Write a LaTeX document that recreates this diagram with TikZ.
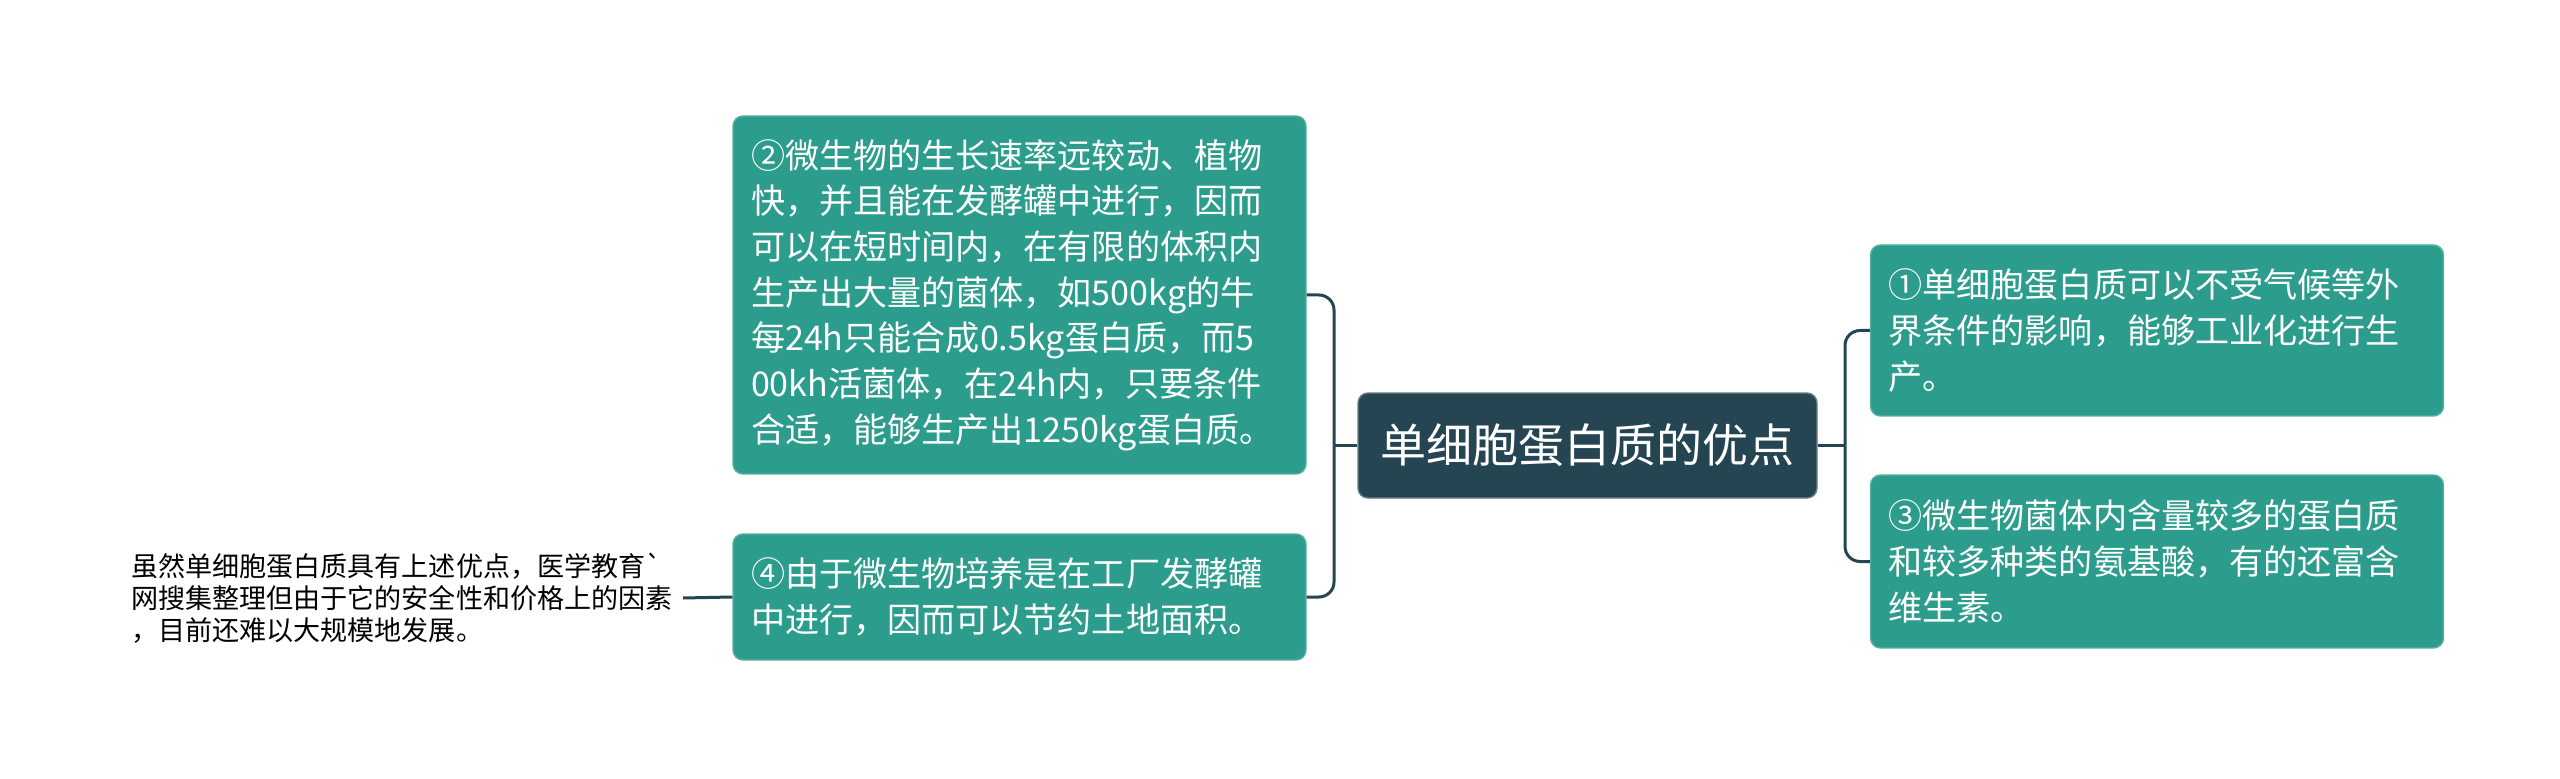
\documentclass[tikz,border=0pt]{standalone}
\usepackage{fontspec}
\setmainfont{Noto Sans CJK SC}
\usetikzlibrary{positioning}
\definecolor{verde}{RGB}{44,157,141}
\definecolor{escuro}{RGB}{38,69,82}
\tikzstyle{central} = [rectangle, rounded corners=1mm, fill=escuro, draw=escuro!70!white, text=white, minimum width=45.9mm, minimum height=10.5mm, font=\fontsize{13.1pt}{16pt}\selectfont]
\tikzstyle{ramo} = [rectangle, rounded corners=1mm, fill=verde, draw=verde!80!white, text=white, align=left, text width=53.7mm, inner xsep=1.8mm, font=\fontsize{9.7pt}{13pt}\selectfont]
\tikzstyle{nota} = [align=left, text width=53.9mm, inner xsep=1.2mm, font=\fontsize{7.7pt}{9.1pt}\selectfont]
\tikzstyle{ligacao} = [line width=0.3mm, draw=escuro, rounded corners=1.5mm]

\begin{document}
\begin{tikzpicture}[x=0.1mm, y=-0.1mm]
        \useasboundingbox (0,0) rectangle (2560,779);

        % Nós (tópico central e ramos)
        \node (centro) [central] at (1587.5,445.5) {单细胞蛋白质的优点};
        \node (ramo2) [ramo, minimum height=35.8mm] at (1019.5,295) {②微生物的生长速率远较动、植物\\快，并且能在发酵罐中进行，因而\\可以在短时间内，在有限的体积内\\生产出大量的菌体，如500kg的牛\\每24h只能合成0.5kg蛋白质，而5\\00kh活菌体，在24h内，只要条件\\合适，能够生产出1250kg蛋白质。};
        \node (ramo4) [ramo, minimum height=12.6mm] at (1019.5,597) {④由于微生物培养是在工厂发酵罐\\中进行，因而可以节约土地面积。};
        \node (ramo1) [ramo, minimum height=17.1mm] at (2157,330.5) {①单细胞蛋白质可以不受气候等外\\界条件的影响，能够工业化进行生\\产。};
        \node (ramo3) [ramo, minimum height=17.3mm] at (2157,561.5) {③微生物菌体内含量较多的蛋白质\\和较多种类的氨基酸，有的还富含\\维生素。};
        \node (nota4) [nota, anchor=east] at (683,598) {虽然单细胞蛋白质具有上述优点，医学教育\textasciigrave\\网搜集整理但由于它的安全性和价格上的因素\\，目前还难以大规模地发展。};

        % Conexões entre os nós
        \coordinate (juntaE) at (1334,445.5);
        \coordinate (juntaD) at (1845,445.5);
        \draw [ligacao] (centro.west) -- (juntaE);
        \draw [ligacao] (juntaE) |- (ramo2.east);
        \draw [ligacao] (juntaE) |- (ramo4.east);
        \draw [ligacao] (centro.east) -- (juntaD);
        \draw [ligacao] (juntaD) |- (ramo1.west);
        \draw [ligacao] (juntaD) |- (ramo3.west);
        \draw [ligacao] (nota4.east) -- (ramo4.west);

    \end{tikzpicture}
\end{document}
